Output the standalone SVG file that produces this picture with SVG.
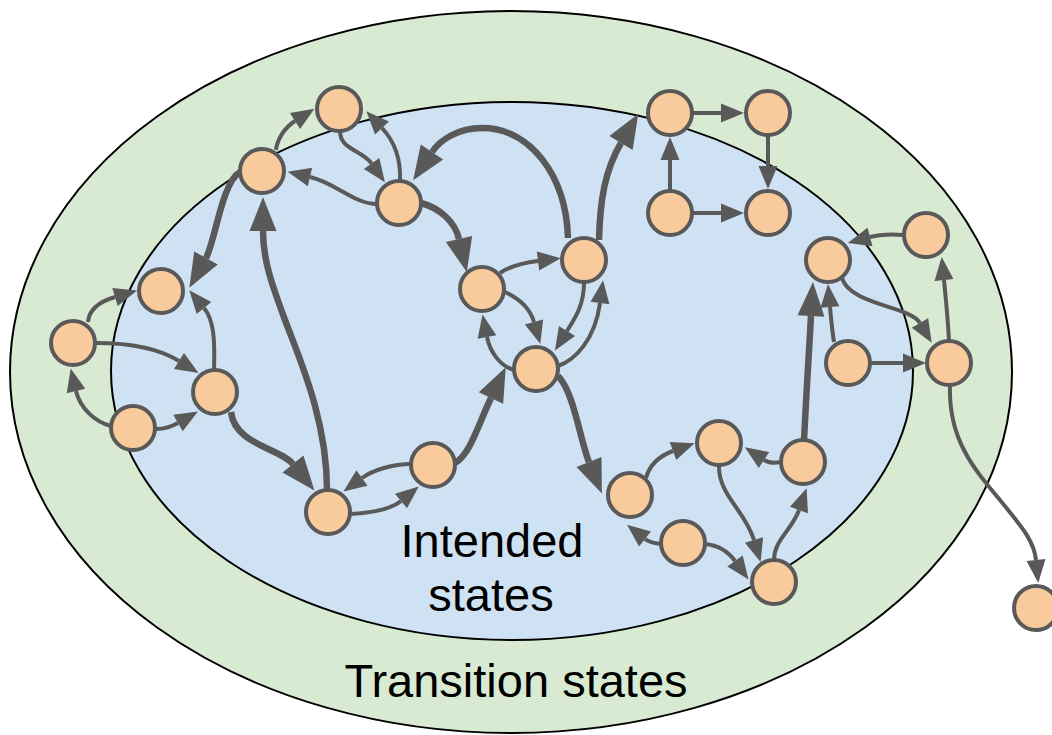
<svg xmlns="http://www.w3.org/2000/svg" width="1052" height="735" viewBox="0 0 1052 735">
<style>
.nd circle{fill:#f9cb9c;stroke:#595959;stroke-width:4}
.e{fill:none;stroke:#595959;stroke-width:4;marker-end:url(#ah)}
.t{fill:none;stroke:#595959;stroke-width:6.5;marker-end:url(#ahT)}
.lbl{font-family:"Liberation Sans",Arial,sans-serif;font-size:47px;fill:#000;text-anchor:middle}
</style>
<defs>
<marker id="ah" markerUnits="userSpaceOnUse" markerWidth="23" markerHeight="19" refX="0" refY="9.5" orient="auto" overflow="visible">
<path d="M0,0 L23,9.5 L0,19 Z" fill="#595959"/>
</marker>
<marker id="ahT" markerUnits="userSpaceOnUse" markerWidth="34" markerHeight="27" refX="0" refY="13.5" orient="auto" overflow="visible">
<path d="M0,0 L34,13.5 L0,27 Z" fill="#595959"/>
</marker>
</defs>
<g id="regions">
<ellipse id="transition-states" cx="511" cy="372" rx="501" ry="361" fill="#d9ead3" stroke="#000" stroke-width="2"/>
<ellipse id="intended-states" cx="512" cy="371" rx="401" ry="269" fill="#cfe2f3" stroke="#000" stroke-width="2"/>
<text class="lbl" x="492" y="557">Intended</text>
<text class="lbl" x="491" y="611">states</text>
<text class="lbl" x="516" y="697">Transition states</text>
</g>
<g id="connectors">
<path class="e" d="M276,150 C277,140 284,128 295,121"/>
<path class="e" d="M377,204 C354,204 336,183 310,177"/>
<path class="t" d="M240,172 C222,182 215,242 206,258"/>
<path class="e" d="M88,322 C89,310 98,302 115,297"/>
<path class="e" d="M96,343 C126,343 158,348 179,361"/>
<path class="e" d="M214,370 C215,340 214,320 204,308"/>
<path class="e" d="M111,426 C95,422 80,408 76,391"/>
<path class="e" d="M156,429 C164,429 171,427 178,423"/>
<path class="t" d="M231,412 C235,445 280,448 293,464"/>
<path class="e" d="M340,131 C340,150 362,150 371.6,163.5"/>
<path class="e" d="M400,181 C401,160 395,142 382,128"/>
<path class="t" d="M568,238 C566,175 530,128 482,128 C458,128 440,140 432,152"/>
<path class="t" d="M421,203 C440,208 455,222 459,239"/>
<path class="e" d="M500,273 C510,266 522,263 538,261"/>
<path class="e" d="M505,292 C518,298 530,308 534,322"/>
<path class="e" d="M584,283 C584,305 575,318 567,331"/>
<path class="e" d="M558,366 C575,360 595,340 600,303"/>
<path class="e" d="M514,370 C500,366 490,352 487,337"/>
<path class="t" d="M455,463 C470,455 478,425 491,398"/>
<path class="e" d="M411,464 C393,464 373,470 362,478"/>
<path class="e" d="M350,514 C370,513 390,510 401,501"/>
<path class="t" d="M327,490 C327,420 300,360 285,320 C272,285 263,260 263,231"/>
<path class="t" d="M558,376 C574,392 580,440 589,462"/>
<path class="t" d="M599,240 C600,200 605,170 621,143"/>
<path class="e" d="M692,113 L721,113"/>
<path class="e" d="M768,135 L768,166"/>
<path class="e" d="M670,191 L670,160"/>
<path class="e" d="M692,213 L721,213"/>
<path class="e" d="M904,235 C893,234 881,234 870,237"/>
<path class="e" d="M842,278 C850,305 910,306 920,323"/>
<path class="e" d="M834,342 C832,330 831,318 830,307"/>
<path class="e" d="M870,363 L903,363"/>
<path class="e" d="M949,341 C948,320 946,300 944,280"/>
<path class="t" d="M804,440 C806,400 809,350 811,316"/>
<path class="e" d="M950,385 C948,440 975,470 1000,500 C1020,525 1034,540 1036,560"/>
<path class="e" d="M646,478 C650,463 662,455 673,451"/>
<path class="e" d="M781,462 C776,463 770,464 764,460"/>
<path class="e" d="M719,465 C718,495 745,510 754,540"/>
<path class="e" d="M774,560 C774,540 792,530 799,510"/>
<path class="e" d="M661,544 C655,543 650,543 645,539"/>
<path class="e" d="M705,544 C716,545 727,550 735,561"/>
</g>
<g id="node-a" class="nd"><circle cx="262" cy="171" r="22"/></g>
<g id="node-b" class="nd"><circle cx="161" cy="291" r="22"/></g>
<g id="node-c" class="nd"><circle cx="73" cy="343" r="22"/></g>
<g id="node-d" class="nd"><circle cx="215" cy="392" r="22"/></g>
<g id="node-e" class="nd"><circle cx="133" cy="428" r="22"/></g>
<g id="node-f" class="nd"><circle cx="339" cy="109" r="22"/></g>
<g id="node-g" class="nd"><circle cx="399" cy="203" r="22"/></g>
<g id="node-h" class="nd"><circle cx="482" cy="289" r="22"/></g>
<g id="node-i" class="nd"><circle cx="584" cy="260" r="22"/></g>
<g id="node-j" class="nd"><circle cx="536" cy="369" r="22"/></g>
<g id="node-k" class="nd"><circle cx="433" cy="465" r="22"/></g>
<g id="node-l" class="nd"><circle cx="328" cy="512" r="22"/></g>
<g id="node-m" class="nd"><circle cx="630" cy="495" r="22"/></g>
<g id="node-n" class="nd"><circle cx="670" cy="113" r="22"/></g>
<g id="node-o" class="nd"><circle cx="768" cy="113" r="22"/></g>
<g id="node-p" class="nd"><circle cx="670" cy="213" r="22"/></g>
<g id="node-q" class="nd"><circle cx="768" cy="213" r="22"/></g>
<g id="node-r" class="nd"><circle cx="828" cy="260" r="22"/></g>
<g id="node-s" class="nd"><circle cx="926" cy="235" r="22"/></g>
<g id="node-t" class="nd"><circle cx="848" cy="363" r="22"/></g>
<g id="node-u" class="nd"><circle cx="949" cy="363" r="22"/></g>
<g id="node-v" class="nd"><circle cx="719" cy="443" r="22"/></g>
<g id="node-w" class="nd"><circle cx="803" cy="462" r="22"/></g>
<g id="node-x" class="nd"><circle cx="683" cy="543" r="22"/></g>
<g id="node-y" class="nd"><circle cx="774" cy="582" r="22"/></g>
<g id="node-z" class="nd"><circle cx="1036" cy="608" r="22"/></g>
</svg>
